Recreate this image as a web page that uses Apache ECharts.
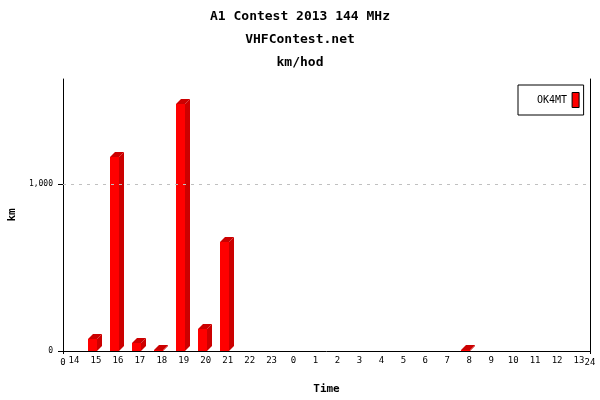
<!DOCTYPE html>
<html><head><meta charset="utf-8">
<script src="https://cdn.jsdelivr.net/npm/echarts@6/dist/echarts.min.js"></script>
<style>html,body{margin:0;padding:0;background:#fff}#c{width:600px;height:400px}</style>
</head><body><div id="c"></div>
<script>
const categories = ['14','15','16','17','18','19','20','21','22','23','0','1','2','3','4','5','6','7','8','9','10','11','12','13'];
const kmValues = [0,72,1162,48,3,1479,132,653,0,0,0,0,0,0,0,0,0,0,3,0,0,0,0,0];
const yTicks = [0,1000];
const seriesName = 'OK4MT';
const titleLines = ['A1 Contest 2013 144 MHz','VHFContest.net','km/hod'];

const chart = echarts.init(document.getElementById('c'), null, {renderer:'canvas'});
const mono = 'DejaVu Sans Mono';
const data = kmValues.map((v,i)=>[i,v]);

chart.setOption({
  animation:false,
  backgroundColor:'#fff',
  title: titleLines.map((t,i)=>({text:t,left:'center',top:5+i*23,textStyle:{fontFamily:mono,fontSize:13,fontWeight:'bold',color:'#000'}})),
  legend:{
    left:518, top:85, orient:'vertical', align:'right',
    padding:[7,4,7,19], borderColor:'#000', borderWidth:1,
    itemWidth:7, itemHeight:15,
    textStyle:{fontFamily:mono,fontSize:10,color:'#000'},
    data:[{name:seriesName,icon:'rect',itemStyle:{color:'#ff0000',borderColor:'#000',borderWidth:1}}]
  },
  grid:{left:63,right:10,top:79,bottom:49,containLabel:false,outerBoundsMode:'none'},
  xAxis:[{
    type:'category', data:categories, boundaryGap:true,
    name:'Time', nameLocation:'middle', nameGap:33,
    nameTextStyle:{fontFamily:mono,fontSize:11,fontWeight:'bold',color:'#000'},
    axisLine:{lineStyle:{color:'#000',width:1}},
    axisTick:{show:false},
    axisLabel:{fontFamily:mono,fontSize:9,color:'#000',margin:5,interval:0}
  },{
    type:'value', min:0, max:24, interval:24, position:'bottom',
    axisLine:{show:false},
    axisTick:{show:true,length:3,lineStyle:{color:'#000'}},
    splitLine:{show:false},
    axisLabel:{fontFamily:mono,fontSize:9,color:'#000',margin:7}
  }],
  yAxis:[{
    type:'value', min:0, max:1630,
    name:'km', nameLocation:'middle', nameGap:45, nameRotate:90,
    nameTextStyle:{fontFamily:mono,fontSize:11,fontWeight:'bold',color:'#000'},
    axisLine:{show:true,lineStyle:{color:'#000',width:1}},
    axisTick:{show:true,length:5,customValues:yTicks,lineStyle:{color:'#000'}},
    axisLabel:{fontFamily:mono,fontSize:8,color:'#000',margin:10,customValues:yTicks},
    splitLine:{show:false}
  },{
    type:'value', min:0, max:1630, position:'right',
    axisLine:{show:true,lineStyle:{color:'#000',width:1}},
    axisTick:{show:false}, axisLabel:{show:false}, splitLine:{show:false}
  }],
  series:[{
    name:seriesName, type:'custom', xAxisIndex:0, yAxisIndex:0,
    itemStyle:{color:'#ff0000'},
    encode:{x:0,y:1},
    data:data,
    z:3,
    markLine:{
      silent:true, symbol:'none', label:{show:false},
      lineStyle:{color:'#c0c0c0',type:[3,5],width:1},
      data:yTicks.filter(t=>t>0).map(t=>({yAxis:t}))
    },
    renderItem:function(params, api){
      const v = api.value(1);
      if (!v) return null;
      const idx = api.value(0);
      const top = api.coord([idx, v]);
      const base = api.coord([idx, 0]);
      const w = api.size([1,0])[0];
      const cx = top[0];
      const x0 = Math.round(cx - w*0.36);
      const x1 = Math.round(cx + w*0.05);
      const d = 5;
      const yt = Math.round(top[1]);
      const yb = Math.round(base[1]);
      return {type:'group', children:[
        {type:'polygon', shape:{points:[[x1,yt],[x1+d,yt-d],[x1+d,yb-d],[x1,yb]]}, style:{fill:'#cc0000'}},
        {type:'polygon', shape:{points:[[x0,yt],[x1,yt],[x1+d,yt-d],[x0+d,yt-d]]}, style:{fill:'#cc0000'}},
        {type:'rect', shape:{x:x0,y:yt,width:x1-x0,height:yb-yt}, style:{fill:'#ff0000'}}
      ]};
    }
  }]
});
</script></body></html>
